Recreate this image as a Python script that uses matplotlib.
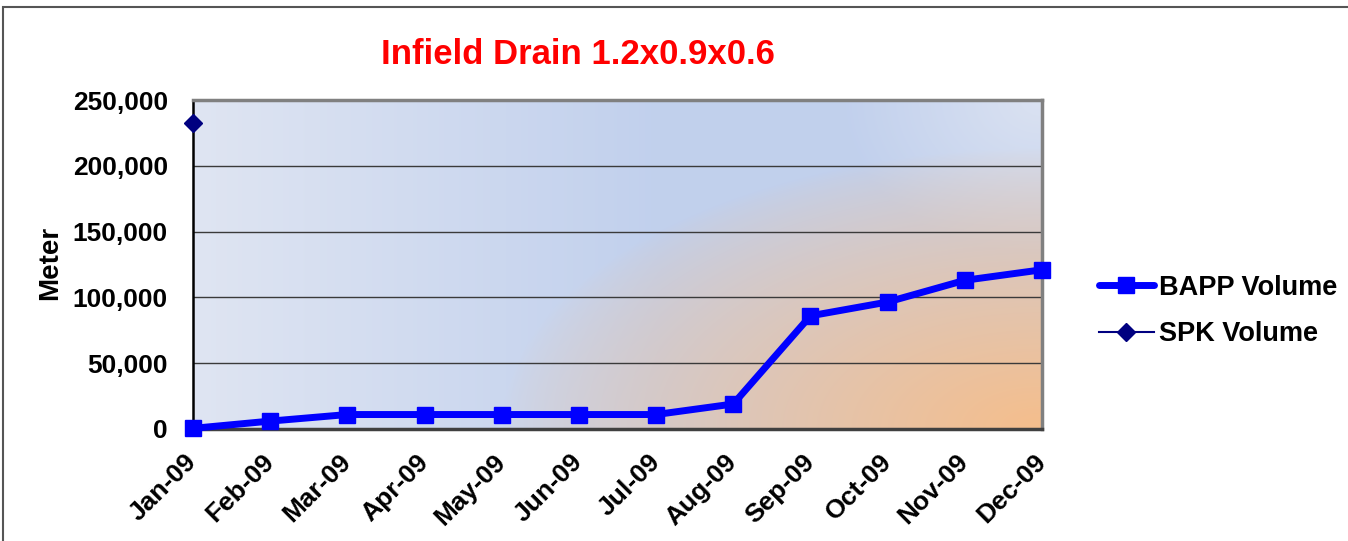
import numpy as np
import matplotlib.pyplot as plt
from matplotlib.patches import Rectangle
from matplotlib.ticker import FuncFormatter

plt.rcParams['font.family'] = ['Liberation Sans', 'DejaVu Sans']
plt.rcParams['font.weight'] = 'bold'

months = ["Jan-09", "Feb-09", "Mar-09", "Apr-09", "May-09", "Jun-09",
          "Jul-09", "Aug-09", "Sep-09", "Oct-09", "Nov-09", "Dec-09"]
bapp_volume = [500, 6000, 11000, 11000, 11000, 11000,
               11000, 19000, 86000, 96500, 113000, 121000]
spk_volume = [232500] + [np.nan] * 11

W, H = 1348, 541
fig = plt.figure(figsize=(W / 100, H / 100), dpi=100)

# outer chart frame (runs off right/bottom edges like the original)
fig.patches.append(Rectangle((3 / W, -0.05), 1.1, 1 - 7 / H + 0.05,
                             transform=fig.transFigure, fill=False,
                             edgecolor="#555555", linewidth=1.5))

ax = fig.add_axes([193 / W, 112 / H, 849 / W, 329 / H])

# plot-area fill: light lavender on the left turning blue, an orange glow
# from the bottom-right corner and a pale patch in the top-right corner
pw, ph = 849, 329
px = np.linspace(0, pw, 425)[None, :]
py = np.linspace(ph, 0, 165)[:, None]  # height above the bottom edge
light_c = np.array([0.875, 0.898, 0.950])
blue_c = np.array([0.757, 0.816, 0.929])
orange_c = np.array([0.961, 0.745, 0.549])
t = np.clip(px / (0.55 * pw), 0, 1)[..., None]
img = light_c * (1 - t) + blue_c * t
img = np.broadcast_to(img, (165, 425, 3)).copy()
d_tr = np.sqrt((pw - px) ** 2 + ((ph - py) * 1.3) ** 2)
hl = np.clip(1 - d_tr / 200, 0, 1)[..., None] * 0.85
img = img * (1 - hl) + light_c * hl
r = np.sqrt(((pw - px) / 540) ** 2 + (py / 280) ** 2)
w = (np.clip(1 - r, 0, 1) ** 0.75)[..., None]
img = img * (1 - w) + orange_c * w
ax.imshow(img, extent=[0, 1, 0, 1], transform=ax.transAxes,
          aspect="auto", zorder=0, interpolation="bilinear")

x = np.arange(len(months))
ax.plot(x, bapp_volume, color="#0000FF", linewidth=5, marker="s",
        markersize=12, label="BAPP Volume", clip_on=False, zorder=4,
        solid_capstyle="round")
ax.plot(x, spk_volume, color="#000080", linewidth=1.5, marker="D",
        markersize=9, label="SPK Volume", clip_on=False, zorder=5)

ax.set_xlim(0, 11)
ax.set_ylim(0, 250000)
ax.set_yticks(np.arange(0, 250001, 50000))
ax.yaxis.set_major_formatter(FuncFormatter(lambda val, pos: f"{int(val):,}"))
ax.set_xticks(x)
ax.set_xticklabels(months, rotation=45, ha="right", va="center",
                   rotation_mode="anchor")
ax.tick_params(axis="both", length=0, labelsize=19)
ax.tick_params(axis="x", pad=21)
ax.tick_params(axis="y", pad=18)
ax.grid(axis="y", color="#3a3a3a", linewidth=1)
ax.set_axisbelow(True)

for side in ("top", "right"):
    ax.spines[side].set_color("#808080")
    ax.spines[side].set_linewidth(2.5)
ax.spines["left"].set_color("black")
ax.spines["left"].set_linewidth(1.8)
ax.spines["bottom"].set_color("#404040")
ax.spines["bottom"].set_linewidth(2.5)

fig.text(50 / W, 1 - 263 / H, "Meter", rotation=90, ha="center",
         va="center", fontsize=20, fontweight="bold")
fig.text(578 / W, 1 - 55 / H, "Infield Drain 1.2x0.9x0.6", color="#FF0000",
         ha="center", va="center", fontsize=25, fontweight="bold")

fig.legend(loc="center left", bbox_to_anchor=(1075 / W, 1 - 311 / H),
           frameon=False, fontsize=19.5, handlelength=2.0,
           handletextpad=0.2, labelspacing=0.75)

fig.savefig("out.png", dpi=100)
